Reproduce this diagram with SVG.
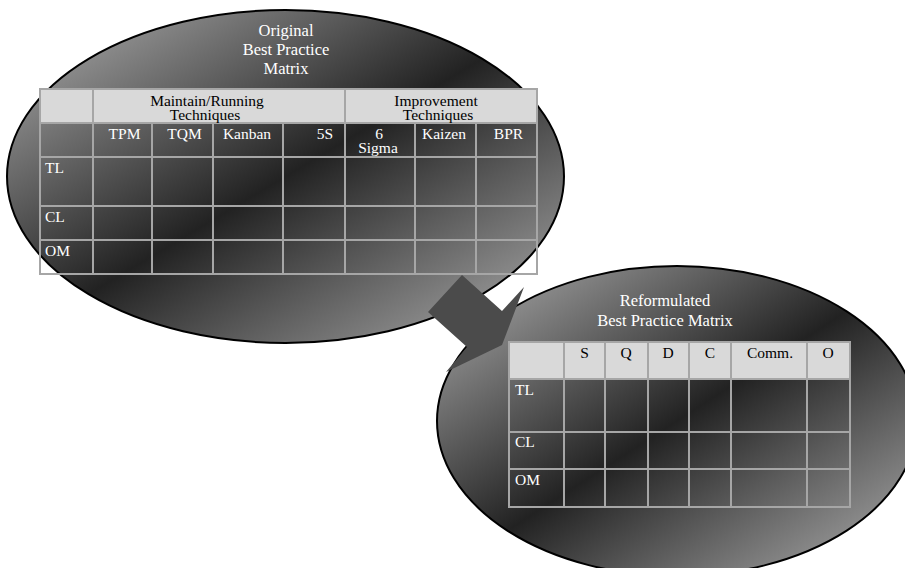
<svg xmlns="http://www.w3.org/2000/svg" width="905" height="568" viewBox="0 0 905 568">
  <defs>
    <!-- diagonal light-dark-light shading for the bubbles -->
    <linearGradient id="shade" x1="0" y1="0" x2="1" y2="1">
      <stop offset="0" stop-color="#b4b4b4"/>
      <stop offset="0.5" stop-color="#222222"/>
      <stop offset="1" stop-color="#b4b4b4"/>
    </linearGradient>
  </defs>
  <style>
    .bubble { fill: url(#shade); stroke: #000; stroke-width: 2; }
    .head { fill: #d9d9d9; }
    .grid { fill: none; stroke: #a6a6a6; stroke-width: 2; }
    .title { font-family: "Liberation Serif", "Times New Roman", serif; font-size: 16.5px; fill: #ffffff; text-anchor: middle; }
    .t { font-family: "Liberation Serif", "Times New Roman", serif; font-size: 15.5px; }
    .dark { fill: #000000; }
    .light { fill: #ffffff; }
    .mid { text-anchor: middle; }
    .end { text-anchor: end; }
    .arrow { fill: #4b4b4b; }
  </style>

  <rect width="905" height="568" fill="#ffffff"/>

  <!-- Original best practice matrix -->
  <g id="original-matrix">
    <ellipse class="bubble" cx="285.5" cy="176.5" rx="278.5" ry="166.5"/>
    <text class="title" x="286" y="36">Original</text>
    <text class="title" x="286" y="55">Best Practice</text>
    <text class="title" x="286" y="73.5">Matrix</text>

    <rect class="head" x="40" y="89" width="497" height="34"/>
    <g class="grid">
      <rect x="40" y="89" width="497" height="185"/>
      <path d="M40 123H537M40 157H537M40 206H537M40 240H537
               M93 89V274M345 89V274
               M152 123V274M213 123V274M283 123V274M415 123V274M476 123V274"/>
    </g>

    <text class="t dark mid" x="207" y="106">Maintain/Running</text>
    <text class="t dark mid" x="205" y="120">Techniques</text>
    <text class="t dark mid" x="436" y="106">Improvement</text>
    <text class="t dark mid" x="438" y="120">Techniques</text>

    <text class="t light mid" x="124.5" y="139">TPM</text>
    <text class="t light mid" x="184.5" y="139">TQM</text>
    <text class="t light mid" x="247" y="139">Kanban</text>
    <text class="t light end" x="333" y="139">5S</text>
    <text class="t light mid" x="379" y="139">6</text>
    <text class="t light mid" x="378" y="152.5">Sigma</text>
    <text class="t light mid" x="444" y="139">Kaizen</text>
    <text class="t light mid" x="508.5" y="139">BPR</text>

    <text class="t light" x="45" y="173">TL</text>
    <text class="t light" x="45" y="222">CL</text>
    <text class="t light" x="45" y="256">OM</text>
  </g>

  <!-- Reformulated best practice matrix -->
  <g id="reformulated-matrix">
    <ellipse class="bubble" cx="677" cy="421" rx="240" ry="155"/>
    <text class="title" x="665" y="305.5">Reformulated</text>
    <text class="title" x="665" y="325.5">Best Practice Matrix</text>

    <rect class="head" x="509" y="342" width="341" height="37"/>
    <g class="grid">
      <rect x="509" y="342" width="341" height="165"/>
      <path d="M509 379H850M509 432H850M509 469H850
               M564 342V507M605 342V507M648 342V507M689 342V507M731 342V507M807 342V507"/>
    </g>

    <text class="t dark mid" x="584.5" y="357.5">S</text>
    <text class="t dark mid" x="626" y="357.5">Q</text>
    <text class="t dark mid" x="668" y="357.5">D</text>
    <text class="t dark mid" x="710" y="357.5">C</text>
    <text class="t dark mid" x="770" y="357.5">Comm.</text>
    <text class="t dark mid" x="828" y="357.5">O</text>

    <text class="t light" x="515" y="395">TL</text>
    <text class="t light" x="515" y="447">CL</text>
    <text class="t light" x="515" y="485">OM</text>
  </g>

  <!-- transformation arrow between the two matrices -->
  <g id="connectors">
    <polygon class="arrow" points="462,275 502,311 524,287 502,345 446,372 467,347 428,312"/>
  </g>
</svg>
